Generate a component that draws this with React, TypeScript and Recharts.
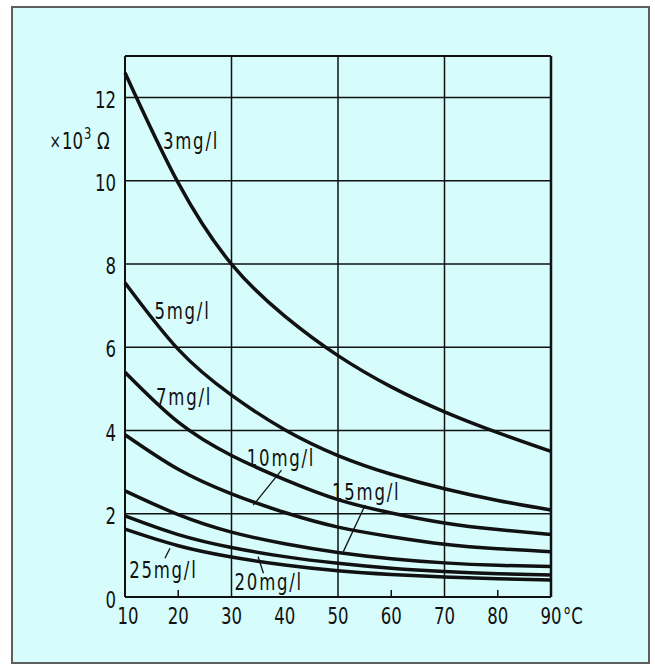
import React from 'react';
import { LineChart, Line, XAxis, YAxis, ReferenceLine, ReferenceDot } from 'recharts';

const temperatures = [10, 20, 30, 40, 50, 60, 70, 80, 90];
const r3mg = [12.6, 9.95, 8.0, 6.75, 5.8, 5.05, 4.45, 3.95, 3.5];
const r5mg = [7.55, 5.95, 4.85, 4.02, 3.4, 2.95, 2.6, 2.32, 2.09];
const r7mg = [5.4, 4.2, 3.4, 2.82, 2.34, 2.02, 1.78, 1.62, 1.5];
const r10mg = [3.9, 3.07, 2.48, 2.03, 1.68, 1.45, 1.27, 1.16, 1.09];
const r15mg = [2.55, 1.98, 1.56, 1.28, 1.07, 0.92, 0.82, 0.76, 0.73];
const r20mg = [1.95, 1.5, 1.19, 0.97, 0.81, 0.69, 0.61, 0.56, 0.53];
const r25mg = [1.63, 1.23, 0.96, 0.77, 0.63, 0.54, 0.48, 0.44, 0.41];

const seriesKeys = ['c3', 'c5', 'c7', 'c10', 'c15', 'c20', 'c25'];
const seriesValues = [r3mg, r5mg, r7mg, r10mg, r15mg, r20mg, r25mg];

const xTicks = [10, 20, 30, 40, 50, 60, 70, 80, 90];
const yTicks = [0, 2, 4, 6, 8, 10, 12];
const gridY = [2, 4, 6, 8, 10, 12];
const gridX = [30, 50, 70];
const minorX = [20, 60, 80];

const curveLabels = [
  { text: '3mg/l', t: 22.4, v: 10.97 },
  { text: '5mg/l', t: 20.8, v: 6.89 },
  { text: '7mg/l', t: 21.1, v: 4.82 },
  { text: '10mg/l', t: 39.3, v: 3.36 },
  { text: '15mg/l', t: 55.3, v: 2.54 },
  { text: '20mg/l', t: 37.0, v: 0.38 },
  { text: '25mg/l', t: 17.2, v: 0.67 },
];

const leaders = [
  [{ x: 39.4, y: 3.05 }, { x: 34.1, y: 2.21 }],
  [{ x: 55.1, y: 2.21 }, { x: 51.0, y: 1.09 }],
  [{ x: 36.0, y: 0.57 }, { x: 35.0, y: 0.97 }],
  [{ x: 17.5, y: 0.93 }, { x: 18.45, y: 1.17 }],
];

const data = temperatures.map((t, i) => {
  const row: any = { t };
  seriesKeys.forEach((k, j) => {
    row[k] = seriesValues[j][i];
  });
  return row;
});

const FONT = "'DejaVu Sans Condensed', 'DejaVu Sans', sans-serif";
const INK = '#111';
const SX = 0.8;

const Txt = ({ x, y, anchor = 'middle', size = 23, spacing = 0, children }: any) => (
  <text
    transform={`translate(${x},${y}) scale(${SX},1)`}
    x={0}
    y={0}
    textAnchor={anchor}
    fontFamily={FONT}
    fontSize={size}
    letterSpacing={spacing}
    fill={INK}
  >
    {children}
  </text>
);

const XTick = (props: any) => {
  const { x, y, payload } = props;
  const v = payload.value;
  if (v === 90) {
    return (
      <g>
        <Txt x={x} y={y + 19}>90</Txt>
        <Txt x={x + 12} y={y + 19} anchor="start">°C</Txt>
      </g>
    );
  }
  return (
    <Txt x={x + (v === 10 ? 3 : 0)} y={y + 19}>
      {v}
    </Txt>
  );
};

const YTick = (props: any) => {
  const { x, y, payload } = props;
  const v = payload.value;
  return (
    <Txt x={x - 1} y={y + (v === 0 ? 11 : 10)} anchor="end">
      {v}
    </Txt>
  );
};

const YLabel = (props: any) => {
  const vb = props.viewBox || { x: 65, y: 56, width: 60, height: 541 };
  const x0 = vb.x;
  const base = vb.y + 93;
  return (
    <g>
      <Txt x={x0 - 4} y={base - 1} anchor="end" size={19}>×</Txt>
      <Txt x={x0 - 3} y={base} anchor="start">10</Txt>
      <Txt x={x0 + 19} y={base - 10} anchor="start" size={16}>3</Txt>
      <Txt x={x0 + 32} y={base} anchor="start">Ω</Txt>
    </g>
  );
};

const CurveLabel = (text: string) => (props: any) => {
  const vb = props.viewBox || {};
  const cx = (vb.x || 0) + (vb.width || 0) / 2;
  const cy = (vb.y || 0) + (vb.height || 0) / 2;
  return (
    <Txt x={cx} y={cy + 8.5} spacing={2.2}>
      {text}
    </Txt>
  );
};

export default function App() {
  return (
    <div style={{ position: 'absolute', left: 0, top: 0, width: 655, height: 666, background: '#fff' }}>
      <div
        style={{
          position: 'absolute',
          left: 11,
          top: 6,
          width: 639,
          height: 658,
          boxSizing: 'border-box',
          border: '2px solid #5e5e5e',
          background: '#d6fcfc',
        }}
      />
      <div style={{ position: 'absolute', left: 0, top: 0 }}>
        <LineChart
          width={655}
          height={666}
          data={data}
          margin={{ top: 56, right: 104, bottom: 39, left: 65 }}
        >
          <XAxis
            dataKey="t"
            type="number"
            domain={[10, 90]}
            ticks={xTicks}
            axisLine={false}
            tickLine={false}
            tickSize={6}
            tickMargin={2}
            height={30}
            tick={<XTick />}
            interval={0}
          />
          <YAxis
            type="number"
            domain={[0, 13]}
            ticks={yTicks}
            axisLine={false}
            tickLine={false}
            tickSize={6}
            tickMargin={2}
            width={60}
            tick={<YTick />}
            interval={0}
            label={<YLabel />}
          />
          {gridY.map((v) => (
            <ReferenceLine key={'gy' + v} y={v} stroke={INK} strokeWidth={1.5} />
          ))}
          {gridX.map((v) => (
            <ReferenceLine key={'gx' + v} x={v} stroke={INK} strokeWidth={1.5} />
          ))}
          <ReferenceLine y={0} stroke={INK} strokeWidth={2} />
          <ReferenceLine y={13} stroke={INK} strokeWidth={2} />
          <ReferenceLine x={10} stroke={INK} strokeWidth={2} />
          <ReferenceLine x={90} stroke={INK} strokeWidth={2.5} />
          {minorX.map((v) => (
            <ReferenceLine
              key={'mx' + v}
              segment={[{ x: v, y: 0 }, { x: v, y: 0.17 }]}
              stroke={INK}
              strokeWidth={1.5}
            />
          ))}
          {leaders.map((seg, i) => (
            <ReferenceLine key={'ld' + i} segment={seg} stroke={INK} strokeWidth={1.3} />
          ))}
          {seriesKeys.map((k) => (
            <Line
              key={k}
              dataKey={k}
              type="natural"
              stroke={INK}
              strokeWidth={3.5}
              dot={false}
              activeDot={false}
              isAnimationActive={false}
            />
          ))}
          {curveLabels.map((l) => (
            <ReferenceDot
              key={l.text}
              x={l.t}
              y={l.v}
              r={0}
              fill="none"
              stroke="none"
              label={CurveLabel(l.text)}
            />
          ))}
        </LineChart>
      </div>
    </div>
  );
}
